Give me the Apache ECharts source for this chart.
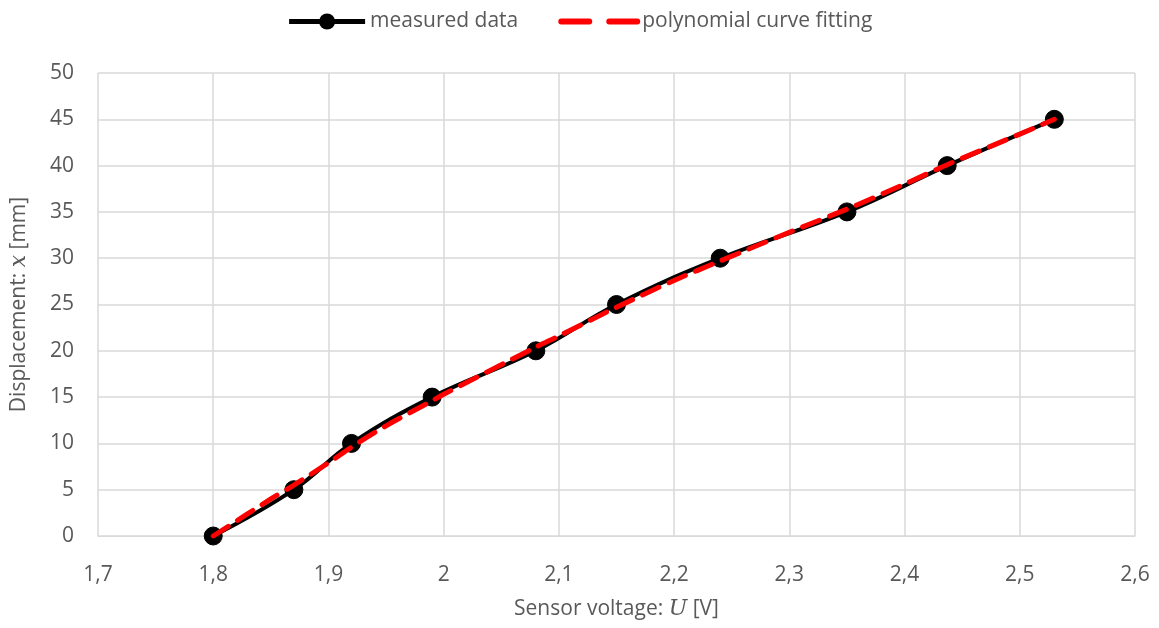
<!DOCTYPE html>
<html>
<head>
<meta charset="utf-8">
<script src="https://cdn.jsdelivr.net/npm/echarts@6/dist/echarts.min.js"></script>
<style>
  html, body { margin: 0; padding: 0; background: #fff; }
  #chart { width: 1159px; height: 628px; }
</style>
</head>
<body>
<div id="chart"></div>
<script>
// measured data (sensor voltage U [V], displacement x [mm])
const measuredU = [1.8, 1.87, 1.92, 1.99, 2.08, 2.15, 2.24, 2.35, 2.437, 2.53];
const measuredX = [0, 5, 10, 15, 20, 25, 30, 35, 40, 45];

// polynomial fit curve
const fitU = [1.8, 1.85, 1.87, 1.9, 1.92, 1.95, 1.99, 2.0, 2.08, 2.1, 2.15, 2.2, 2.24, 2.3, 2.35, 2.4, 2.437, 2.5, 2.53];
const fitX = [0, 4.0, 5.5, 7.9, 9.6, 11.9, 14.6, 15.3, 20.4, 21.6, 24.7, 27.6, 29.7, 32.8, 35.3, 38.0, 40.1, 43.4, 45];

const font = "'Open Sans', sans-serif";
const grey = "#595959";

const chart = echarts.init(document.getElementById("chart"));

const option = {
  backgroundColor: "#fff",
  animation: false,
  textStyle: { fontFamily: font, color: grey },
  legend: {
    top: 6,
    left: "center",
    itemWidth: 76,
    itemHeight: 20,
    itemGap: 40,
    textStyle: { fontSize: 21, color: grey, fontFamily: font },
    data: [
      { name: "measured data", lineStyle: { width: 5 } },
      { name: "polynomial curve fitting", itemStyle: { opacity: 0 }, lineStyle: { width: 6, type: [28, 20], cap: "round" } }
    ]
  },
  grid: { left: 97, right: 24, top: 73, bottom: 92 },
  xAxis: {
    type: "value",
    min: 1.7,
    max: 2.6,
    interval: 0.1,
    name: "Sensor voltage: {i|U} [V]",
    nameLocation: "middle",
    nameGap: 62,
    nameTextStyle: {
      fontSize: 21, color: grey, fontFamily: font,
      rich: { i: { fontSize: 22, fontStyle: "italic", fontFamily: "'DejaVu Serif', serif", color: grey } }
    },
    axisLine: { show: true, lineStyle: { color: "#d9d9d9", width: 1 } },
    axisTick: { show: false },
    axisLabel: {
      fontSize: 21, color: grey, margin: 29,
      formatter: v => String(Math.round(v * 10) / 10).replace(".", ",")
    },
    splitLine: { show: true, lineStyle: { color: "#d9d9d9", width: 1.5 } }
  },
  yAxis: {
    type: "value",
    min: 0,
    max: 50,
    interval: 5,
    name: "Displacement: {i|x} [mm]",
    nameLocation: "middle",
    nameGap: 68,
    nameTextStyle: {
      fontSize: 21, color: grey, fontFamily: font,
      rich: { i: { fontSize: 22, fontStyle: "italic", fontFamily: "'DejaVu Serif', serif", color: grey } }
    },
    axisLine: { show: false },
    axisTick: { show: false },
    axisLabel: { fontSize: 21, color: grey, margin: 24 },
    splitLine: { show: true, lineStyle: { color: "#d9d9d9", width: 1.5 } }
  },
  series: [
    {
      name: "measured data",
      type: "line",
      smooth: 0.4,
      symbol: "circle",
      symbolSize: 18,
      z: 2,
      data: measuredU.map((u, i) => [u, measuredX[i]]),
      lineStyle: { color: "#000", width: 4 },
      itemStyle: { color: "#000", borderColor: "#000" }
    },
    {
      name: "polynomial curve fitting",
      type: "line",
      smooth: 0.3,
      showSymbol: false,
      symbol: "none",
      z: 3,
      data: fitU.map((u, i) => [u, fitX[i]]),
      lineStyle: { color: "#ff0000", width: 5, type: [18, 11], cap: "round" },
      itemStyle: { color: "#ff0000" }
    }
  ]
};

chart.setOption(option);
</script>
</body>
</html>
